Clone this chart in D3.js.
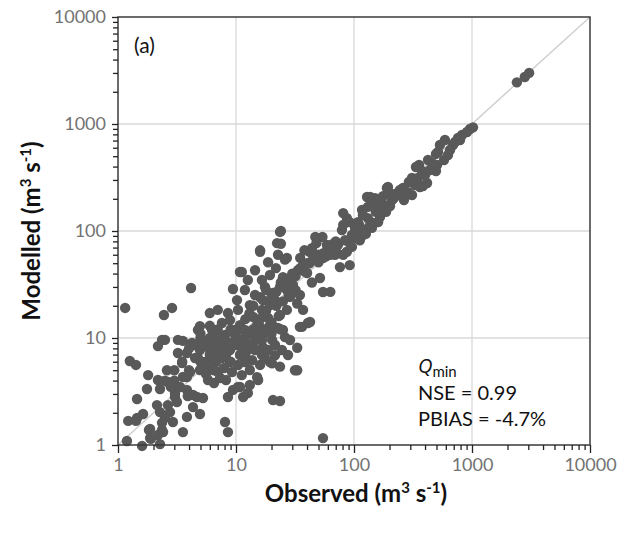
<!DOCTYPE html>
<html><head><meta charset="utf-8">
<script src="https://cdn.jsdelivr.net/npm/d3@7"></script>
<style>body{margin:0;background:#fff}svg{display:block}</style>
</head><body>
<script>
// Observed (m3 s-1) values
const observed = [
2400,2800,3050,1020,962,907,823,761,690,651,535,515,495,505,495,356,377,335,310,292,416,384,362,260,245,194,202,231,271,310,137,151,
129,145,190,194,117,166,81,87,92,81,79,24,24,16,47,54,48,44,42,73,92,106,124,145,166,27,102,112,131,153,180,210,84,65,59,137,117,96,69,35,38,58,50,
102,108,119,131,145,160,176,112,126,142,160,96,187,202,218,236,265,287,329,348,400,441,458,424,579,626,718,791,590,
16,26,33.5,37,42,48.5,55,63,72,81,87,76,92,40,51.5,63,44,25,29,23.6,17.6,20.6,16.9,28.7,34.8,33,37,11.2,23.6,22.7,34.8,40.7,26,16,14,13.1,15.1,16.9,12.4,33,21.4,17.6,20.2,23.6,16,33,11.2,15.4,13.1,10.8,12.6,11.5,20.6,23.6,54.6,
11.9,14.5,13.1,16.6,19.4,18.7,15.4,11.9,17.6,20.2,11.9,13.7,19.4,21.8,16.6,27,21.4,27,30.4,12.6,14.5,18.7,22.7,
10.8,4.16,1.15,2.87,2.45,7.0,8.55,9.43,10.2,4.95,4.76,6.26,7.6,2.5,2.18,3.55,4.24,5.25,6.26,8.9,10.4,9.8,8.07,7.04,10.8,8.55,
1.26,1.42,1.80,1.76,1.45,2.18,2.65,2.27,2.60,3.22,3.84,3.49,4.08,3.55,3.35,3.04,3.84,3.16,2.65,2.14,2.27,2.76,2.5,2.92,3.84,4.95,1.63,1.45,1.22,1.87,2.36,2.18,1.87,3.55,4.32,4.67,5.25,4.32,8.07,8.55,8.55,9.43,10.4,1.19,1.6,2.27,1.90,1.83,2.41,2.36,1.42,
4.49,4.95,5.46,6.02,6.64,7.32,8.07,4.76,5.35,6.02,6.77,7.61,4.95,5.57,6.26,7.04,7.91,5.79,6.51,7.32,8.23,6.38,7.18,8.23,8.89,9.25,8.89,10,10.8,10.4,11.2,11.9,
9.81,11.9,13.1,14.5,16.6,10.8,12.6,14.2,18.7,21.4,24.5,27.6,28.7,25,19.4,16.6,
31.6,36.2,42.4,54.6,22.3,23.6,6.0,3.22,2.36,3.84,3.04,3.9,19.4,15.1,
14,16,18,20,22,24,26,28,30,32,35,38,40,45,50,55,60,65,70,18,22,25,28,32,12,13,15,17,20,23,9,7,6,5,4,4.5,3.5,3,3,2.5,2.8,5,6,7,8,9,10,11,5.5,4,6.5,9,12,15,8,7,6,5,14,16,18,20,24
];
// Modelled (m3 s-1) values
const modelled = [
2450,2750,3000,930,898,842,789,740,637,571,637,548,525,414,364,414,364,396,313,287,281,263,258,252,242,258,226,226,217,217,208,203,
208,199,252,226,157,164,147,132,121,114,102,100,76,66,88,88,77,69,64,74,77,86,102,119,135,56,98,111,132,151,175,195,82,66,74,114,90,71,60,56,66,58,51,
107,121,141,168,183,195,212,82,94,107,121,92,151,171,203,217,195,231,269,313,334,372,432,461,461,513,679,708,708,
64,54,43,48,50,54,56,60,62,60,64,46,48,40.5,36.4,27,33,37,35,30,30,26.3,22.6,24.2,25.2,21,18.3,41.4,16.4,12.4,12.7,13.8,10.2,12.7,15.7,11.1,10,8.2,8.6,8.1,6.9,6.5,5.8,5.4,5.6,5.0,4.5,4.05,3.64,3.48,3.06,2.81,2.63,2.58,1.16,
28.1,25.2,20.3,18.3,20.3,15.4,14.1,11.9,11.1,9.6,6.9,6.2,38.8,45,34.8,28.1,22.6,18.3,31.3,34.8,43,51,60,
41.4,29.3,19.1,19.1,16.4,18.3,17.1,28.7,22.6,12.9,11.9,11.9,13.8,9.6,8.4,9.4,9.0,9.4,9.2,14.7,18.3,11.9,10.7,9.6,13.2,8.6,
6.1,5.6,4.5,3.34,2.69,4.05,3.88,3.34,5.0,7.24,7.24,5.84,4.81,4.32,3.48,3.06,3.27,2.52,2.36,2.36,2.03,2.03,1.79,1.64,1.83,1.95,1.95,1.79,1.68,1.41,1.38,1.24,1.16,1.32,2.26,2.81,2.75,2.93,1.64,1.32,2.81,3.27,3.48,1.09,0.98,1.02,1.14,1.38,1.32,1.61,1.68,
8.6,7.73,8.6,7.73,8.6,7.73,8.6,6.5,5.97,6.5,5.97,6.5,5.02,4.61,5.24,4.81,5.24,4.05,3.80,4.23,4.05,6.93,9.58,6.93,5.97,4.81,7.73,8.6,6.93,5.59,8.07,10,
10.7,5.97,5.02,7.73,6.93,9.58,7.73,9.18,7.73,8.6,7.73,6.93,9.58,11.9,13.2,9.58,
5.0,12.7,14.1,26.9,77,98,17.1,9.6,9.6,4.32,2.81,2.87,5.97,4.3,
20,24,28,24,27,33,30,36,40,38,45,42,50,55,60,62,70,75,80,18,20,22,25,28,15,17,13,16,14,16,12,11,10,10,8,6.5,6,5,4,4,3.5,6,7,7,8,9,10,12,5.5,5,5,6,8,11,10,12,13,11,12,15,12,11,12
];
const majorTicks = [1, 10, 100, 1000, 10000];
const tickLabels = ["1", "10", "100", "1000", "10000"];
const statLines = ["NSE = 0.99", "PBIAS = -4.7%"];

const W = 620, H = 533;
const svg = d3.select("body").append("svg").attr("width", W).attr("height", H);
const FONT = "Lato, 'Open Sans', sans-serif";

const x = d3.scaleLog().domain([1, 10000]).range([118, 590]);
const y = d3.scaleLog().domain([1, 10000]).range([445, 17]);

const minorTicks = [];
for (let d = 1; d < 10000; d *= 10) for (let k = 2; k <= 9; k++) minorTicks.push(d * k);

// gridlines
const grid = svg.append("g");
grid.selectAll(".gx").data(majorTicks.slice(1, -1)).enter().append("line")
  .attr("x1", d => x(d)).attr("x2", d => x(d)).attr("y1", y(1)).attr("y2", y(10000))
  .attr("stroke", "#d9d9d9").attr("stroke-width", 1.3);
grid.selectAll(".gy").data(majorTicks.slice(1, -1)).enter().append("line")
  .attr("y1", d => y(d)).attr("y2", d => y(d)).attr("x1", x(1)).attr("x2", x(10000))
  .attr("stroke", "#d9d9d9").attr("stroke-width", 1.3);

// 1:1 line
svg.append("line")
  .attr("x1", x(1)).attr("y1", y(1)).attr("x2", x(10000)).attr("y2", y(10000))
  .attr("stroke", "#cfcfcf").attr("stroke-width", 1.5);

// points
const pts = observed.map((o, i) => ({o, m: modelled[i]}));
svg.append("g").selectAll("circle").data(pts).enter().append("circle")
  .attr("cx", d => x(d.o)).attr("cy", d => y(d.m)).attr("r", 5.2)
  .attr("fill", "#595959");

// frame
svg.append("rect").attr("x", x(1)).attr("y", y(10000))
  .attr("width", x(10000) - x(1)).attr("height", y(1) - y(10000))
  .attr("fill", "none").attr("stroke", "#3a3a3a").attr("stroke-width", 1.5);

// axes
function styleAxis(g) {
  g.select(".domain").remove();
  g.selectAll(".tick line").attr("stroke", "#222").attr("stroke-width", 1.3);
  g.selectAll("text").attr("font-family", FONT).attr("font-size", 18).attr("fill", "#737373");
}
const fmt = d => tickLabels[majorTicks.indexOf(d)];
svg.append("g").attr("transform", `translate(0,${y(1)})`)
  .call(d3.axisBottom(x).tickValues(minorTicks).tickSize(5).tickFormat(""))
  .call(styleAxis);
svg.append("g").attr("transform", `translate(0,${y(1)})`)
  .call(d3.axisBottom(x).tickValues(majorTicks).tickSize(8).tickPadding(5).tickFormat(fmt))
  .call(styleAxis);
svg.append("g").attr("transform", `translate(${x(1)},0)`)
  .call(d3.axisLeft(y).tickValues(minorTicks).tickSize(5).tickFormat(""))
  .call(styleAxis);
svg.append("g").attr("transform", `translate(${x(1)},0)`)
  .call(d3.axisLeft(y).tickValues(majorTicks).tickSize(6).tickPadding(6).tickFormat(fmt))
  .call(styleAxis);

// axis titles
function unitTitle(sel, label) {
  sel.attr("font-family", FONT).attr("font-weight", "bold").attr("font-size", 24).attr("fill", "#111");
  sel.append("tspan").text(label + " (m");
  sel.append("tspan").text("3").attr("font-size", 15).attr("dy", -9);
  sel.append("tspan").text(" s").attr("font-size", 24).attr("dy", 9);
  sel.append("tspan").text("-1").attr("font-size", 15).attr("dy", -9);
  sel.append("tspan").text(")").attr("font-size", 24).attr("dy", 9);
}
svg.append("text").attr("x", 356).attr("y", 502).attr("text-anchor", "middle")
  .call(unitTitle, "Observed");
svg.append("text").attr("transform", "translate(40,231) rotate(-90)").attr("text-anchor", "middle")
  .call(unitTitle, "Modelled");

// panel label
svg.append("text").attr("x", 134).attr("y", 53).text("(a)")
  .attr("font-family", FONT).attr("font-size", 21).attr("fill", "#111");

// stats
const st = svg.append("g").attr("font-family", FONT).attr("font-size", 20).attr("fill", "#111");
const q = st.append("text").attr("x", 418).attr("y", 373);
q.append("tspan").text("Q").attr("font-style", "italic").attr("font-family", "'Open Sans', sans-serif");
q.append("tspan").text("min").attr("font-size", 15).attr("dy", 4);
statLines.forEach((s, i) => st.append("text").attr("x", 418).attr("y", 400 + i * 26).text(s));
</script>
</body></html>
